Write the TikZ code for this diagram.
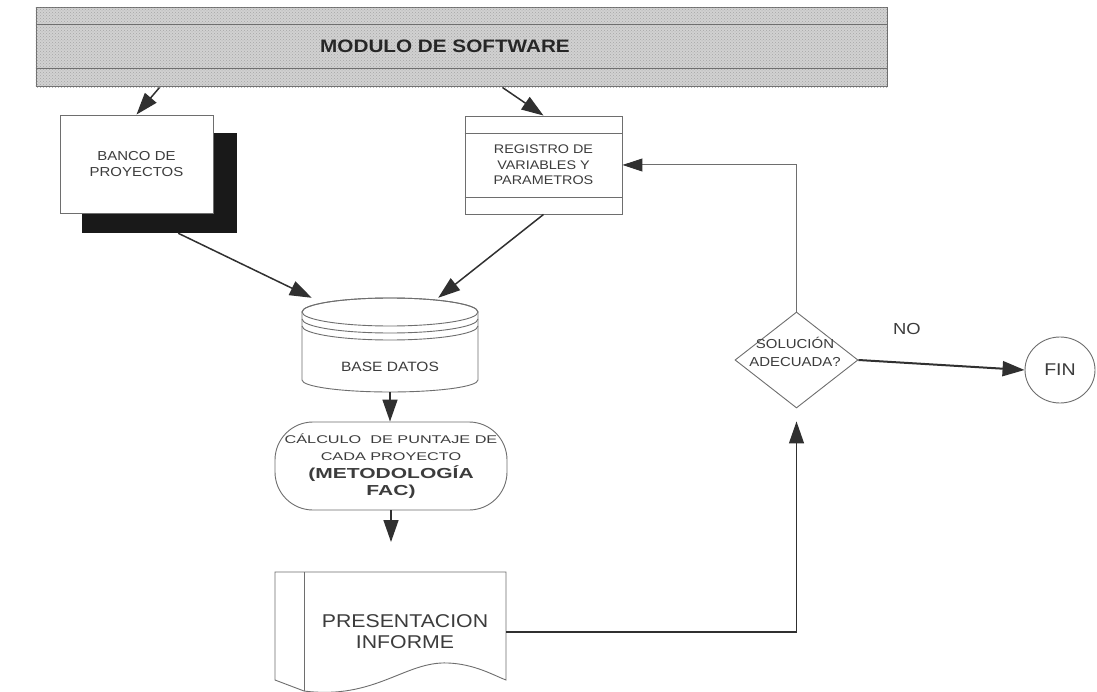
\documentclass[tikz,border=0pt]{standalone}
\usepackage{fontspec}
\setmainfont{Liberation Sans}[FakeStretch=1.15]
\newfontfamily\widerf{Liberation Sans}[FakeStretch=1.45]
\usetikzlibrary{arrows.meta,shapes.geometric,calc,patterns}
\definecolor{ink}{HTML}{3C3C3C}
\definecolor{edge}{HTML}{6E6E6E}
\definecolor{arr}{HTML}{303030}
\tikzset{
  box/.style={draw=edge, line width=0.9pt, fill=white, text=ink, align=center, inner sep=0pt},
  conn/.style={draw=arr, line width=1.5pt, -{Triangle[length=22pt,width=15pt,fill=arr,color=arr]}},
  fback/.style={draw=edge, line width=1pt, -{Triangle[length=20pt,width=13pt,fill=arr,color=arr]}},
  thinline/.style={draw=edge, line width=0.9pt},
  lbl/.style={text=ink, align=center, inner sep=0pt},
}
\begin{document}
\begin{tikzpicture}[x=1pt,y=-1pt]
\fill[white] (0,0) rectangle (1097,692);
\useasboundingbox (0,0) rectangle (1097,692);

% banner
\node[draw=edge, line width=1pt, fill=black!18, minimum width=851pt, minimum height=79pt, inner sep=0pt] (mod) at (461.5,47.5) {};
\fill[pattern=crosshatch dots, pattern color=black!35] (mod.south west) rectangle (mod.north east);
\draw[thinline] ($(mod.north west)+(0,17)$) -- ($(mod.north east)+(0,17)$);
\draw[thinline] ($(mod.south west)+(0,-19)$) -- ($(mod.south east)+(0,-19)$);
\node[lbl, text=black!85, font=\bfseries\fontsize{18}{20}\selectfont] (modtxt) at (445,46) {MODULO DE SOFTWARE};

% banco de proyectos
\node[fill=black!90, minimum width=155pt, minimum height=100pt, inner sep=0pt] (bsh) at (159.5,183) {};
\node[box, minimum width=153pt, minimum height=98pt, font=\fontsize{13}{16}\selectfont] (banco) at (136.5,164) {BANCO DE\\PROYECTOS};

% registro
\node[box, minimum width=157pt, minimum height=98pt, font=\fontsize{12.5}{15.5}\selectfont] (reg) at (543.5,165) {REGISTRO DE\\VARIABLES Y\\PARAMETROS};
\draw[thinline] ($(reg.north west)+(0,18)$) -- ($(reg.north east)+(0,18)$);
\draw[thinline] ($(reg.south west)+(0,-17)$) -- ($(reg.south east)+(0,-17)$);

\draw[conn] ($(mod.south west)+(124,0)$) -- (banco.north);
\draw[conn] ($(mod.south west)+(467,0)$) -- (reg.north);

% base datos cylinder
\node[minimum width=176pt, minimum height=94pt, inner sep=0pt] (cyl) at (390,345) {};
\filldraw[draw=edge, line width=0.9pt, fill=white] (302,312) -- (302,380) arc[start angle=180, end angle=0, x radius=88, y radius=12] -- (478,312) arc[start angle=0, end angle=-180, x radius=88, y radius=14] -- cycle;
\draw[thinline] (390,312) ellipse [x radius=88, y radius=14];
\draw[thinline] (302,319) arc[start angle=180, end angle=0, x radius=88, y radius=14];
\draw[thinline] (302,326) arc[start angle=180, end angle=0, x radius=88, y radius=14];
\node[lbl, font=\fontsize{13.5}{15}\selectfont] (datos) at (390,367) {BASE DATOS};

\draw[conn] ($(bsh.south west)!0.62!(bsh.south east)$) -- ($(cyl.north west)+(10,0)$);
\draw[conn] (reg.south) -- ($(cyl.north east)+(-40,0)$);

% calculo
\node[box, rounded corners=38pt, minimum width=232pt, minimum height=88pt, font=\widerf\fontsize{11.2}{17.5}\selectfont] (calc) at (391,466) {C\'ALCULO\ \ DE PUNTAJE DE\\CADA PROYECTO\\\fontsize{14.5}{18}\selectfont\bfseries (METODOLOG\'IA\\\fontsize{14.5}{18}\selectfont\bfseries FAC)};
\draw[conn] (cyl.south) -- (cyl.south |- calc.north);
\coordinate (c1) at (391,542);
\draw[conn] (calc.south) -- (c1);

% presentacion informe
\filldraw[draw=edge, line width=0.9pt, fill=white] (275,572) -- (506,572) -- (506,680) .. controls (495,676) and (475,664) .. (448,663) .. controls (405,661) and (375,700) .. (304,691) -- (275,680) -- cycle;
\draw[thinline] (304,572) -- (304,691);
\node[lbl, minimum width=202pt, font=\fontsize{18.5}{21}\selectfont] (present) at (405,632) {PRESENTACION\\INFORME};

% decision
\node[draw=edge, line width=0.9pt, fill=white, diamond, aspect=1.28, minimum width=123pt, minimum height=96pt, inner sep=0pt] (sol) at (796.5,360) {};
\node[lbl, font=\fontsize{13}{18}\selectfont] (soltxt) at (795,352) {SOLUCI\'ON\\ADECUADA?};
\draw[conn, line width=1.2pt, shorten >=13pt] (present.east) -| (sol.south);
\draw[fback] (sol.north) |- (reg.east);

% fin
\node[draw=edge, line width=0.9pt, ellipse, minimum width=70pt, minimum height=66pt, inner sep=0pt, text=ink, font=\fontsize{17}{18}\selectfont] (fin) at (1060,370) {FIN};
\draw[conn, line width=2pt] (sol.east) -- (fin.west);
\node[lbl, font=\fontsize{16}{18}\selectfont] (no) at (907,329) {NO};
\end{tikzpicture}
\end{document}
